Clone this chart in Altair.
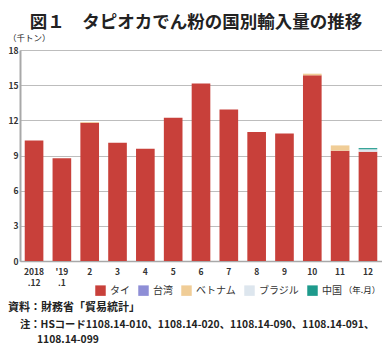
import altair as alt
import pandas as pd

months = ["2018|.12", "'19|.1", "2", "3", "4", "5", "6", "7", "8", "9", "10", "11", "12"]
countries = ["タイ", "台湾", "ベトナム", "ブラジル", "中国"]
colors = ["#C8403A", "#8E8ED6", "#F0CD97", "#DDE6EE", "#1E9A8C"]
thai = [10.28, 8.77, 11.80, 10.09, 9.58, 12.21, 15.15, 12.93, 11.00, 10.87, 15.84, 9.41, 9.33]
taiwan = [0, 0, 0, 0, 0, 0, 0, 0, 0, 0, 0, 0, 0]
vietnam = [0, 0, 0.05, 0, 0, 0, 0, 0, 0, 0, 0.14, 0.45, 0]
brazil = [0, 0, 0, 0, 0, 0, 0, 0, 0, 0, 0, 0, 0.20]
china = [0, 0, 0, 0, 0, 0, 0, 0, 0, 0, 0, 0, 0.10]
y_ticks = [0, 3, 6, 9, 12, 15, 18]

series = [thai, taiwan, vietnam, brazil, china]
rows = []
for ci, (c, vals) in enumerate(zip(countries, series)):
    for m, v in zip(months, vals):
        rows.append({"month": m, "country": c, "value": v, "idx": ci})
df = pd.DataFrame(rows)

FONT = "Noto Sans CJK JP"
W, H = 362, 211

bars = alt.Chart(df).mark_bar().encode(
    x=alt.X("month:N", sort=months,
            scale=alt.Scale(paddingInner=0.33, paddingOuter=0.17),
            axis=alt.Axis(title=None, labelExpr="split(datum.value, '|')", labelAngle=0,
                          labelFont=FONT, labelFontSize=8.5, labelFontWeight="bold",
                          labelColor="#333", labelPadding=6, ticks=False,
                          domainColor="#a8a8a8", domainWidth=1.5, labelLineHeight=11)),
    y=alt.Y("value:Q", stack="zero",
            scale=alt.Scale(domain=[0, 18], nice=False),
            axis=alt.Axis(title=None, values=y_ticks, labelFont=FONT, labelFontSize=8.5,
                          labelFontWeight="bold", labelColor="#333", labelPadding=2,
                          ticks=False, domainColor="#a8a8a8", domainWidth=2,
                          gridColor="#bdbdbd", gridWidth=1)),
    color=alt.Color("country:N", scale=alt.Scale(domain=countries, range=colors),
                    legend=alt.Legend(title=None, orient="none", direction="horizontal",
                                      legendX=75, legendY=235, symbolType="square",
                                      symbolSize=110, symbolStrokeWidth=0,
                                      labelFont=FONT, labelFontSize=10, labelColor="#333",
                                      columnPadding=8, padding=0, symbolOpacity=1)),
    order=alt.Order("idx:Q", sort="ascending"),
)

def txt(s, x, y, size, weight="normal", align="left"):
    return alt.Chart(pd.DataFrame({"t": [s]})).mark_text(
        font=FONT, fontSize=size, fontWeight=weight, align=align,
        baseline="middle", color="#222"
    ).encode(x=alt.value(x), y=alt.value(y), text="t:N")

title = txt("図１　タピオカでん粉の国別輸入量の推移", 176, -27, 17.5, "bold", "center")
unit = txt("（千トン）", -12, -12, 8.5)
ym = txt("（年.月）", 342, 240, 8.5, "normal", "center")
src = txt("資料：財務省「貿易統計」", -12, 258, 11, "bold")
note1 = txt("注：HSコード1108.14-010、1108.14-020、1108.14-090、1108.14-091、", 0, 275, 10.3, "bold")
note2 = txt("1108.14-099", 17, 290, 10.3, "bold")

chart = alt.layer(bars, title, unit, ym, src, note1, note2).properties(
    width=W, height=H,
    autosize=alt.AutoSizeParams(type="none"),
    padding={"left": 12, "top": 42, "right": 0, "bottom": 87},
).configure_view(stroke=None).configure(background="white")

chart.save("out.html", embed_options={"renderer": "svg", "actions": False})
